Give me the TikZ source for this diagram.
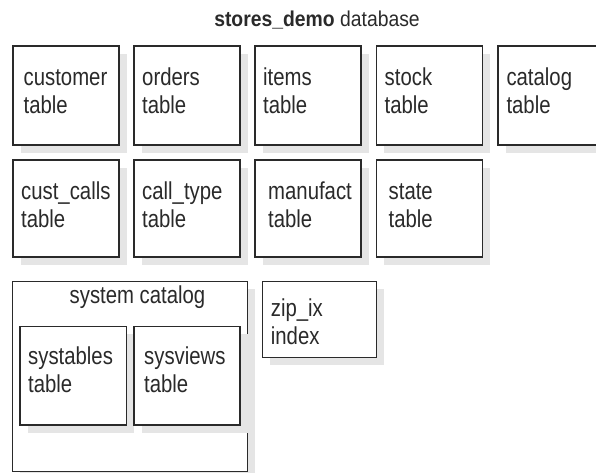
\documentclass[tikz,border=0pt]{standalone}
\usepackage{fontspec}
\setmainfont{Liberation Sans}[FakeStretch=0.83]
\newfontfamily\titlefont{Liberation Sans}[FakeStretch=0.9]
\definecolor{linec}{HTML}{2A2A2A}
\definecolor{textc}{HTML}{2A2A2A}
\definecolor{shadowc}{rgb}{0.9,0.9,0.9}
\newcommand\twol[2]{\vtop{\hbox{#1}\hbox{#2}}}
\newcommand\tbox[5]{%
  \fill[shadowc] (#2+7.5,#3+7.5) rectangle ++(#4,#5);
  \node[box, minimum width=#4pt, minimum height=#5pt] (#1) at (#2,#3) {};}
\tikzset{
  box/.style={draw=linec, line width=1.1pt, fill=white, inner sep=0pt, outer sep=0pt,
    anchor=north west, rectangle},
  lbl/.style={anchor=base west, inner sep=0pt, text=textc,
    font=\fontsize{24.5}{27.5}\selectfont},
  ttl/.style={anchor=base, inner sep=0pt, text=textc}
}
\begin{document}
\begin{tikzpicture}[x=1pt,y=-1pt]
\useasboundingbox (0,0) rectangle (596,472);
\clip (0,0) rectangle (596,472);
\node[ttl, font=\titlefont\fontsize{21.5}{24}\selectfont] (title) at (317,26) {\textbf{stores\_demo} database};
% row 1
\tbox{customer}{13}{46}{106}{99}
\tbox{orders}{134}{46}{106}{99}
\tbox{items}{255}{46}{106}{99}
\tbox{stock}{376.5}{46}{106}{99}
\tbox{catalog}{498}{46}{106}{99}
\node[lbl] (tcustomer) at ([xshift=10.5pt,yshift=-39.5pt]customer.north west) {\twol{customer}{table}};
\node[lbl] (torders) at ([xshift=8pt,yshift=-39.5pt]orders.north west) {\twol{orders}{table}};
\node[lbl] (titems) at ([xshift=8pt,yshift=-39.5pt]items.north west) {\twol{items}{table}};
\node[lbl] (tstock) at ([xshift=8pt,yshift=-39.5pt]stock.north west) {\twol{stock}{table}};
\node[lbl] (tcatalog) at ([xshift=8.3pt,yshift=-39.5pt]catalog.north west) {\twol{catalog}{table}};
% row 2
\tbox{custcalls}{13}{160}{106}{97}
\tbox{calltype}{134}{160}{106}{97}
\tbox{manufact}{255}{160}{106}{97}
\tbox{state}{376.5}{160}{106}{97}
\node[lbl] (tcustcalls) at ([xshift=8pt,yshift=-39.5pt]custcalls.north west) {\twol{cust\_calls}{table}};
\node[lbl] (tcalltype) at ([xshift=8pt,yshift=-39.5pt]calltype.north west) {\twol{call\_type}{table}};
\node[lbl] (tmanufact) at ([xshift=13pt,yshift=-39.5pt]manufact.north west) {\twol{manufact}{table}};
\node[lbl] (tstate) at ([xshift=12pt,yshift=-39.5pt]state.north west) {\twol{state}{table}};
% row 3
\tbox{syscat}{12.7}{281.7}{235}{189.5}
\node[ttl, font=\fontsize{24.5}{27.5}\selectfont] (tsyscat) at (137.5,303.3) {system catalog};
\tbox{systables}{20}{326.7}{106.7}{98.3}
\tbox{sysviews}{134}{326.7}{106}{98.3}
\node[lbl] (tsystables) at ([xshift=8pt,yshift=-38pt]systables.north west) {\twol{systables}{table}};
\node[lbl] (tsysviews) at ([xshift=10pt,yshift=-38pt]sysviews.north west) {\twol{sysviews}{table}};
\tbox{zipix}{262.3}{281.7}{114.4}{75.6}
\node[lbl] (tzipix) at ([xshift=8.4pt,yshift=-35pt]zipix.north west) {\twol{zip\_ix}{index}};
\end{tikzpicture}
\end{document}
